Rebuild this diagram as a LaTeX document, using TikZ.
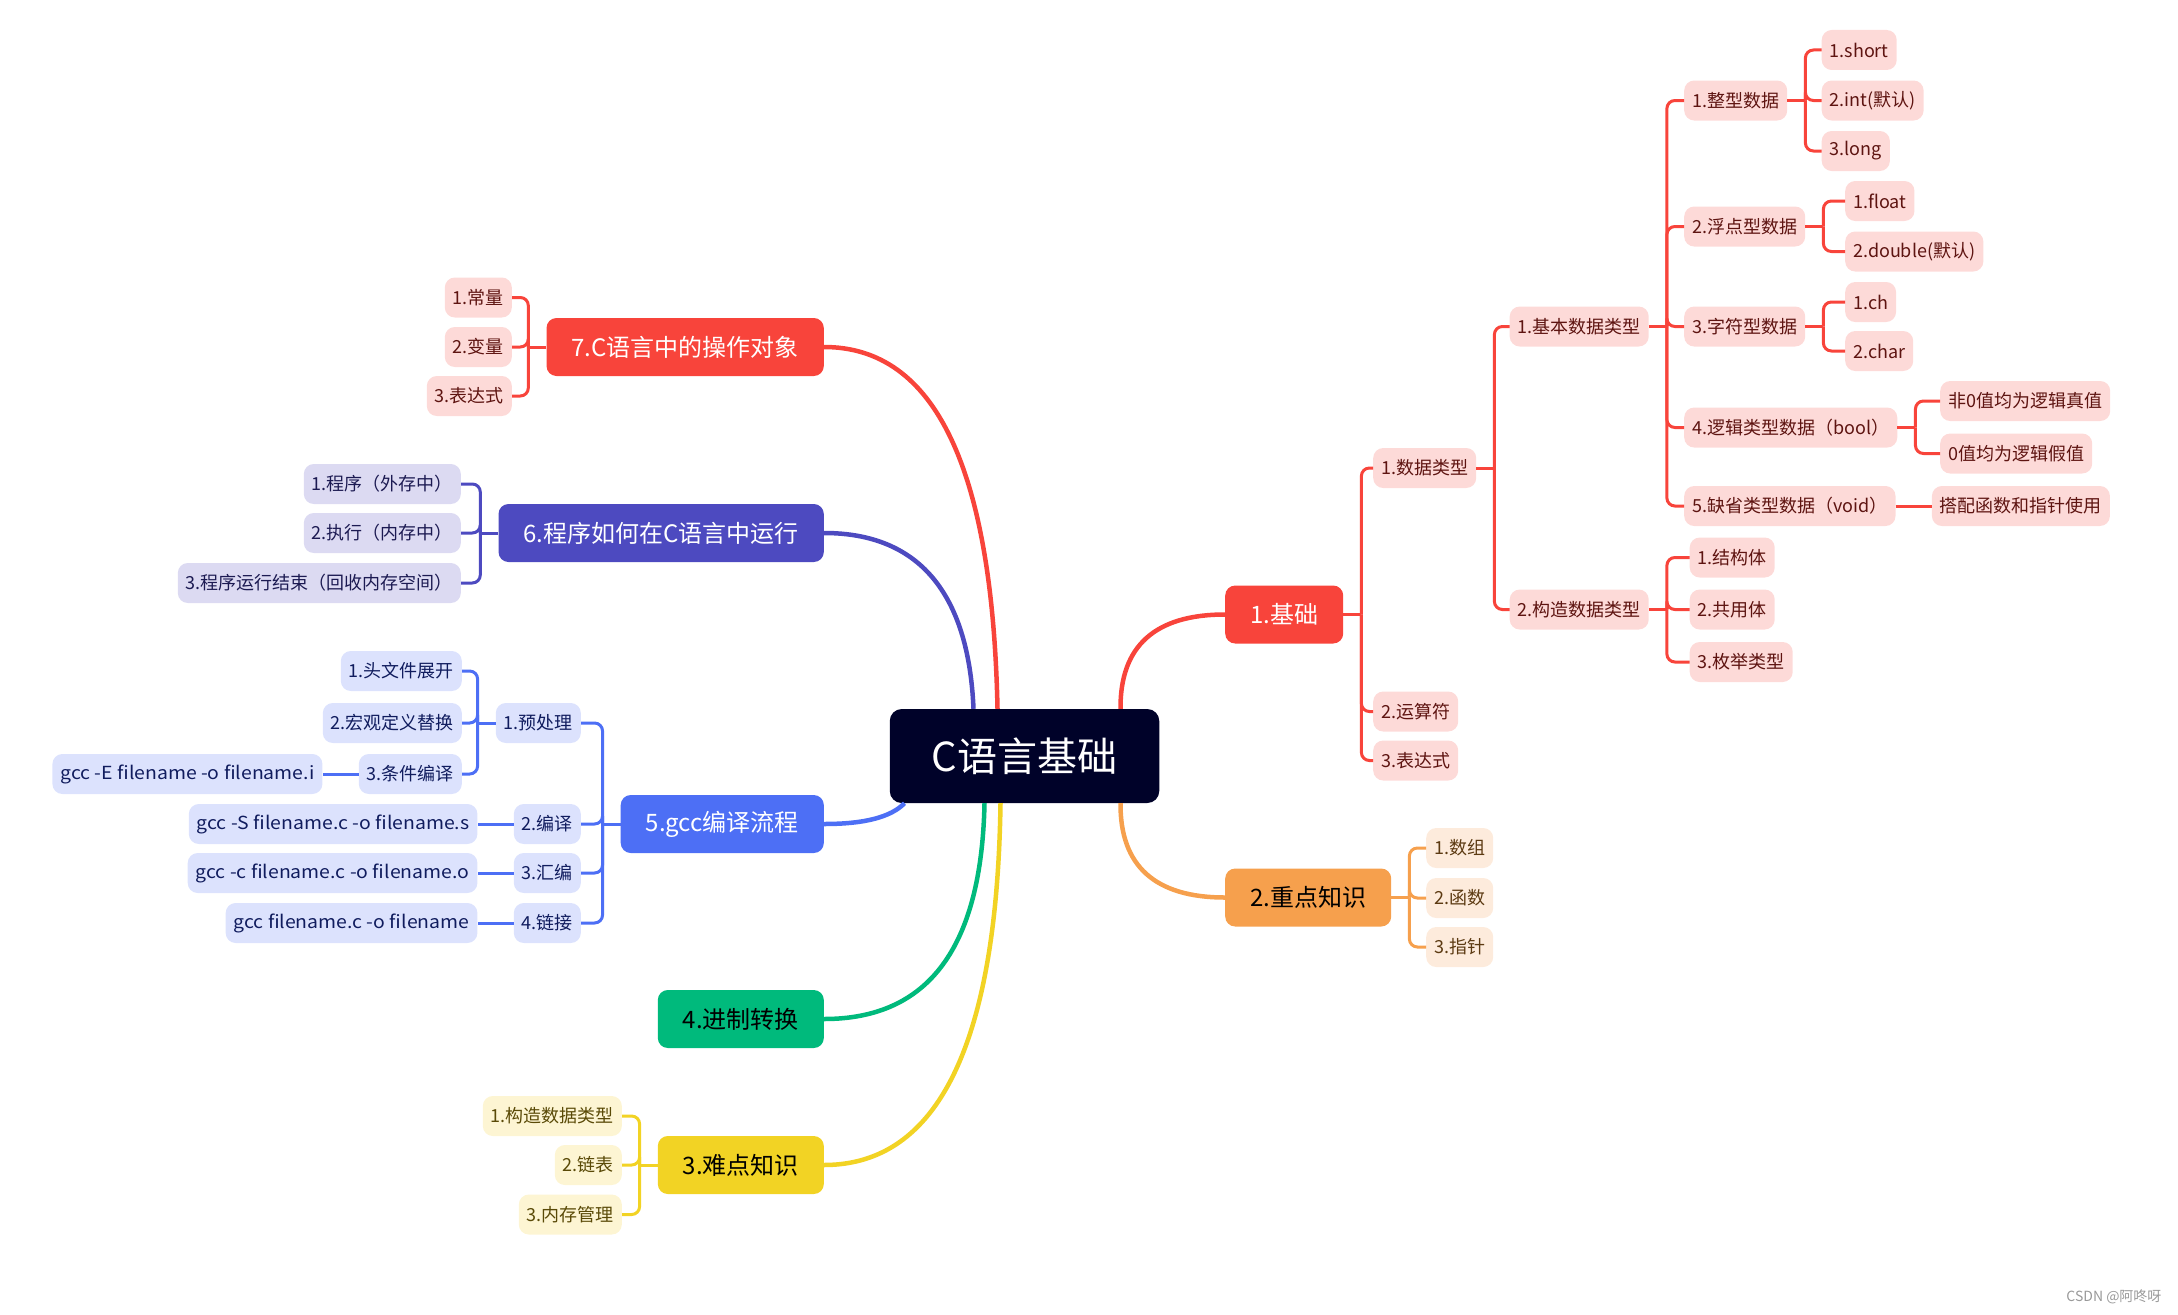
\documentclass[tikz,border=0pt]{standalone}
\usepackage{fontspec}
\setmainfont{Noto Sans CJK SC}
\newfontfamily\cmdfont[FakeStretch=1.08]{Noto Sans CJK SC}
\usetikzlibrary{positioning}

\definecolor{rootbg}{HTML}{000229}
\definecolor{redmain}{HTML}{F8443B}
\definecolor{redlt}{HTML}{FDDAD8}
\definecolor{redtx}{HTML}{5E1411}
\definecolor{orgmain}{HTML}{F6A04D}
\definecolor{orglt}{HTML}{FDEBDC}
\definecolor{orgtx}{HTML}{5C3A12}
\definecolor{yelmain}{HTML}{F2D324}
\definecolor{yellt}{HTML}{FDF5D3}
\definecolor{yeltx}{HTML}{5A4A07}
\definecolor{grnmain}{HTML}{00BA7C}
\definecolor{blumain}{HTML}{4D6FF5}
\definecolor{blult}{HTML}{DCE2FD}
\definecolor{blutx}{HTML}{101C5E}
\definecolor{purmain}{HTML}{4D4AC0}
\definecolor{purlt}{HTML}{DCDAF2}
\definecolor{purtx}{HTML}{1C1A52}

\tikzset{
  rootbox/.style={rectangle, rounded corners=12pt, fill=rootbg, text=white, minimum height=94pt, inner xsep=42pt, font=\fontsize{40}{44}\selectfont},
  topic/.style={rectangle, rounded corners=10pt, minimum height=58pt, inner xsep=25pt, font=\fontsize{24}{28}\selectfont},
  sub/.style={rectangle, rounded corners=10pt, minimum height=40pt, inner xsep=8pt, font=\fontsize{18}{22}\selectfont},
  redsub/.style={sub, fill=redlt, text=redtx},
  orgsub/.style={sub, fill=orglt, text=orgtx},
  yelsub/.style={sub, fill=yellt, text=yeltx},
  blusub/.style={sub, fill=blult, text=blutx},
  cmdsub/.style={blusub, font=\cmdfont\fontsize{18}{22}\selectfont},
  pursub/.style={sub, fill=purlt, text=purtx},
  bigline/.style={line width=4.5pt},
  redln/.style={draw=redmain, line width=3pt},
  orgln/.style={draw=orgmain, line width=3pt},
  yelln/.style={draw=yelmain, line width=3pt},
  bluln/.style={draw=blumain, line width=3pt},
  purln/.style={draw=purmain, line width=3pt},
  elbow/.style={rounded corners=8pt}
}

\begin{document}
\begin{tikzpicture}[x=1pt, y=-1pt]
  \useasboundingbox (0,0) rectangle (2178,1314);

  % centre
  \node[rootbox] (root) at (1024.5,756) {C语言基础};

  % right side
  \node[topic, fill=redmain, text=white, anchor=west] (b1) at (1225,614.5) {1.基础};
  \node[topic, fill=orgmain, text=black, anchor=west] (b2) at (1225,897.5) {2.重点知识};

  \node[redsub, anchor=west] (b1a) at (1373,468) {1.数据类型};
  \node[redsub, anchor=west] (b1b) at (1373,711.5) {2.运算符};
  \node[redsub, anchor=west] (b1c) at (1373,760.5) {3.表达式};

  \node[redsub, anchor=west] (b1a1) at (1509.5,326.5) {1.基本数据类型};
  \node[redsub, anchor=west] (b1a2) at (1509.5,609.5) {2.构造数据类型};

  \node[redsub, anchor=west] (t1) at (1684,100.5) {1.整型数据};
  \node[redsub, anchor=west] (t2) at (1684,226.5) {2.浮点型数据};
  \node[redsub, anchor=west] (t3) at (1684,326.5) {3.字符型数据};
  \node[redsub, anchor=west] (t4) at (1684,427.5) {4.逻辑类型数据（bool）};
  \node[redsub, anchor=west] (t5) at (1684,506) {5.缺省类型数据（void）};

  \node[redsub, anchor=west] (t11) at (1821.5,50) {1.short};
  \node[redsub, anchor=west] (t12) at (1821.5,100.5) {2.int(默认)};
  \node[redsub, anchor=west] (t13) at (1821.5,151) {3.long};
  \node[redsub, anchor=west] (t21) at (1845,201) {1.float};
  \node[redsub, anchor=west] (t22) at (1845,251.5) {2.double(默认)};
  \node[redsub, anchor=west] (t31) at (1845,302) {1.ch};
  \node[redsub, anchor=west] (t32) at (1845,351) {2.char};
  \node[redsub, anchor=west] (t41) at (1940,401) {非0值均为逻辑真值};
  \node[redsub, anchor=west] (t42) at (1940,453.5) {0值均为逻辑假值};
  \node[redsub, right=36pt of t5] (t51) {搭配函数和指针使用};

  \node[redsub, anchor=west] (c1) at (1689.5,557.5) {1.结构体};
  \node[redsub, anchor=west] (c2) at (1689.5,609.5) {2.共用体};
  \node[redsub, anchor=west] (c3) at (1689.5,662) {3.枚举类型};

  \node[orgsub, anchor=west] (b21) at (1426,848) {1.数组};
  \node[orgsub, anchor=west] (b22) at (1426,898) {2.函数};
  \node[orgsub, anchor=west] (b23) at (1426,947) {3.指针};

  % left side
  \node[topic, fill=redmain, text=white, anchor=east] (l7) at (824,347) {7.C语言中的操作对象};
  \node[topic, fill=purmain, text=white, anchor=east] (l6) at (824,533) {6.程序如何在C语言中运行};
  \node[topic, fill=blumain, text=white, anchor=east] (l5) at (824,824) {5.gcc编译流程};
  \node[topic, fill=grnmain, text=black, anchor=east] (l4) at (824,1019) {4.进制转换};
  \node[topic, fill=yelmain, text=black, anchor=east] (l3) at (824,1165) {3.难点知识};

  \node[redsub, anchor=east] (l71) at (512,297.5) {1.常量};
  \node[redsub, anchor=east] (l72) at (512,347) {2.变量};
  \node[redsub, anchor=east] (l73) at (512,396) {3.表达式};

  \node[pursub, anchor=east] (l61) at (461,484) {1.程序（外存中）};
  \node[pursub, anchor=east] (l62) at (461,533) {2.执行（内存中）};
  \node[pursub, anchor=east] (l63) at (461,583) {3.程序运行结束（回收内存空间）};

  \node[blusub, anchor=east] (l51) at (581,723) {1.预处理};
  \node[blusub, anchor=east] (l52) at (581,824) {2.编译};
  \node[blusub, anchor=east] (l53) at (581,873) {3.汇编};
  \node[blusub, anchor=east] (l54) at (581,923) {4.链接};
  \node[blusub, anchor=east] (l511) at (462,671) {1.头文件展开};
  \node[blusub, anchor=east] (l512) at (462,723) {2.宏观定义替换};
  \node[blusub, anchor=east] (l513) at (462,774) {3.条件编译};
  \node[cmdsub, left=36pt of l513] (l5131) {gcc -E filename -o filename.i};
  \node[cmdsub, left=36pt of l52] (l521) {gcc -S filename.c -o filename.s};
  \node[cmdsub, left=36pt of l53] (l531) {gcc -c filename.c -o filename.o};
  \node[cmdsub, left=36pt of l54] (l541) {gcc filename.c -o filename};

  \node[yelsub, anchor=east] (l31) at (622,1116) {1.构造数据类型};
  \node[yelsub, anchor=east] (l32) at (622,1165) {2.链表};
  \node[yelsub, anchor=east] (l33) at (622,1214.5) {3.内存管理};

  \node[anchor=east, text=black!40, font=\fontsize{14}{16}\selectfont] (mark) at (2165,1297) {CSDN @阿咚呀};

  % main branches
  \draw[bigline, redmain] ([xshift=96pt]root.north) .. controls (1120,646) and (1155,614.5) .. (b1.west);
  \draw[bigline, orgmain] ([xshift=96pt]root.south) .. controls (1120,866) and (1155,897.5) .. (b2.west);
  \draw[bigline, redmain] ([xshift=-27pt]root.north) .. controls (992.5,468) and (935,347) .. (l7.east);
  \draw[bigline, purmain] ([xshift=-51pt]root.north) .. controls (968.5,592) and (918,533) .. (l6.east);
  \draw[bigline, blumain] ([xshift=-120pt]root.south) .. controls (891,817) and (865,824) .. (l5.east);
  \draw[bigline, grnmain] ([xshift=-40pt]root.south) .. controls (981.5,947) and (929,1019) .. (l4.east);
  \draw[bigline, yelmain] ([xshift=-24pt]root.south) .. controls (997,1044) and (938,1165) .. (l3.east);

  % 1.基础
  \draw[redln] (b1.east) -- ++(18,0) coordinate (b1j);
  \draw[redln, elbow] (b1j) |- (b1a.west);
  \draw[redln, elbow] (b1j) |- (b1b.west);
  \draw[redln, elbow] (b1j) |- (b1c.west);
  \draw[redln] (b1a.east) -- ++(18,0) coordinate (b1aj);
  \draw[redln, elbow] (b1aj) |- (b1a1.west);
  \draw[redln, elbow] (b1aj) |- (b1a2.west);
  \draw[redln] (b1a1.east) -- ++(18,0) coordinate (tj);
  \draw[redln, elbow] (tj) |- (t1.west);
  \draw[redln, elbow] (tj) |- (t2.west);
  \draw[redln, elbow] (tj) |- (t3.west);
  \draw[redln, elbow] (tj) |- (t4.west);
  \draw[redln, elbow] (tj) |- (t5.west);
  \draw[redln] (t1.east) -- ++(18,0) coordinate (t1j);
  \draw[redln, elbow] (t1j) |- (t11.west);
  \draw[redln, elbow] (t1j) |- (t12.west);
  \draw[redln, elbow] (t1j) |- (t13.west);
  \draw[redln] (t2.east) -- ++(18,0) coordinate (t2j);
  \draw[redln, elbow] (t2j) |- (t21.west);
  \draw[redln, elbow] (t2j) |- (t22.west);
  \draw[redln] (t3.east) -- ++(18,0) coordinate (t3j);
  \draw[redln, elbow] (t3j) |- (t31.west);
  \draw[redln, elbow] (t3j) |- (t32.west);
  \draw[redln] (t4.east) -- ++(18,0) coordinate (t4j);
  \draw[redln, elbow] (t4j) |- (t41.west);
  \draw[redln, elbow] (t4j) |- (t42.west);
  \draw[redln] (t5.east) -- (t51.west);
  \draw[redln] (b1a2.east) -- ++(18,0) coordinate (cj);
  \draw[redln, elbow] (cj) |- (c1.west);
  \draw[redln, elbow] (cj) |- (c2.west);
  \draw[redln, elbow] (cj) |- (c3.west);

  % 2.重点知识
  \draw[orgln] (b2.east) -- ++(18,0) coordinate (b2j);
  \draw[orgln, elbow] (b2j) |- (b21.west);
  \draw[orgln, elbow] (b2j) |- (b22.west);
  \draw[orgln, elbow] (b2j) |- (b23.west);

  % 7
  \draw[redln] (l7.west) -- ++(-18,0) coordinate (l7j);
  \draw[redln, elbow] (l7j) |- (l71.east);
  \draw[redln, elbow] (l7j) |- (l72.east);
  \draw[redln, elbow] (l7j) |- (l73.east);

  % 6
  \draw[purln] (l6.west) -- ++(-18,0) coordinate (l6j);
  \draw[purln, elbow] (l6j) |- (l61.east);
  \draw[purln, elbow] (l6j) |- (l62.east);
  \draw[purln, elbow] (l6j) |- (l63.east);

  % 5
  \draw[bluln] (l5.west) -- ++(-18,0) coordinate (l5j);
  \draw[bluln, elbow] (l5j) |- (l51.east);
  \draw[bluln, elbow] (l5j) |- (l52.east);
  \draw[bluln, elbow] (l5j) |- (l53.east);
  \draw[bluln, elbow] (l5j) |- (l54.east);
  \draw[bluln] (l51.west) -- ++(-18,0) coordinate (l51j);
  \draw[bluln, elbow] (l51j) |- (l511.east);
  \draw[bluln, elbow] (l51j) |- (l512.east);
  \draw[bluln, elbow] (l51j) |- (l513.east);
  \draw[bluln] (l513.west) -- (l5131.east);
  \draw[bluln] (l52.west) -- (l521.east);
  \draw[bluln] (l53.west) -- (l531.east);
  \draw[bluln] (l54.west) -- (l541.east);

  % 3
  \draw[yelln] (l3.west) -- ++(-18,0) coordinate (l3j);
  \draw[yelln, elbow] (l3j) |- (l31.east);
  \draw[yelln, elbow] (l3j) |- (l32.east);
  \draw[yelln, elbow] (l3j) |- (l33.east);
\end{tikzpicture}
\end{document}
